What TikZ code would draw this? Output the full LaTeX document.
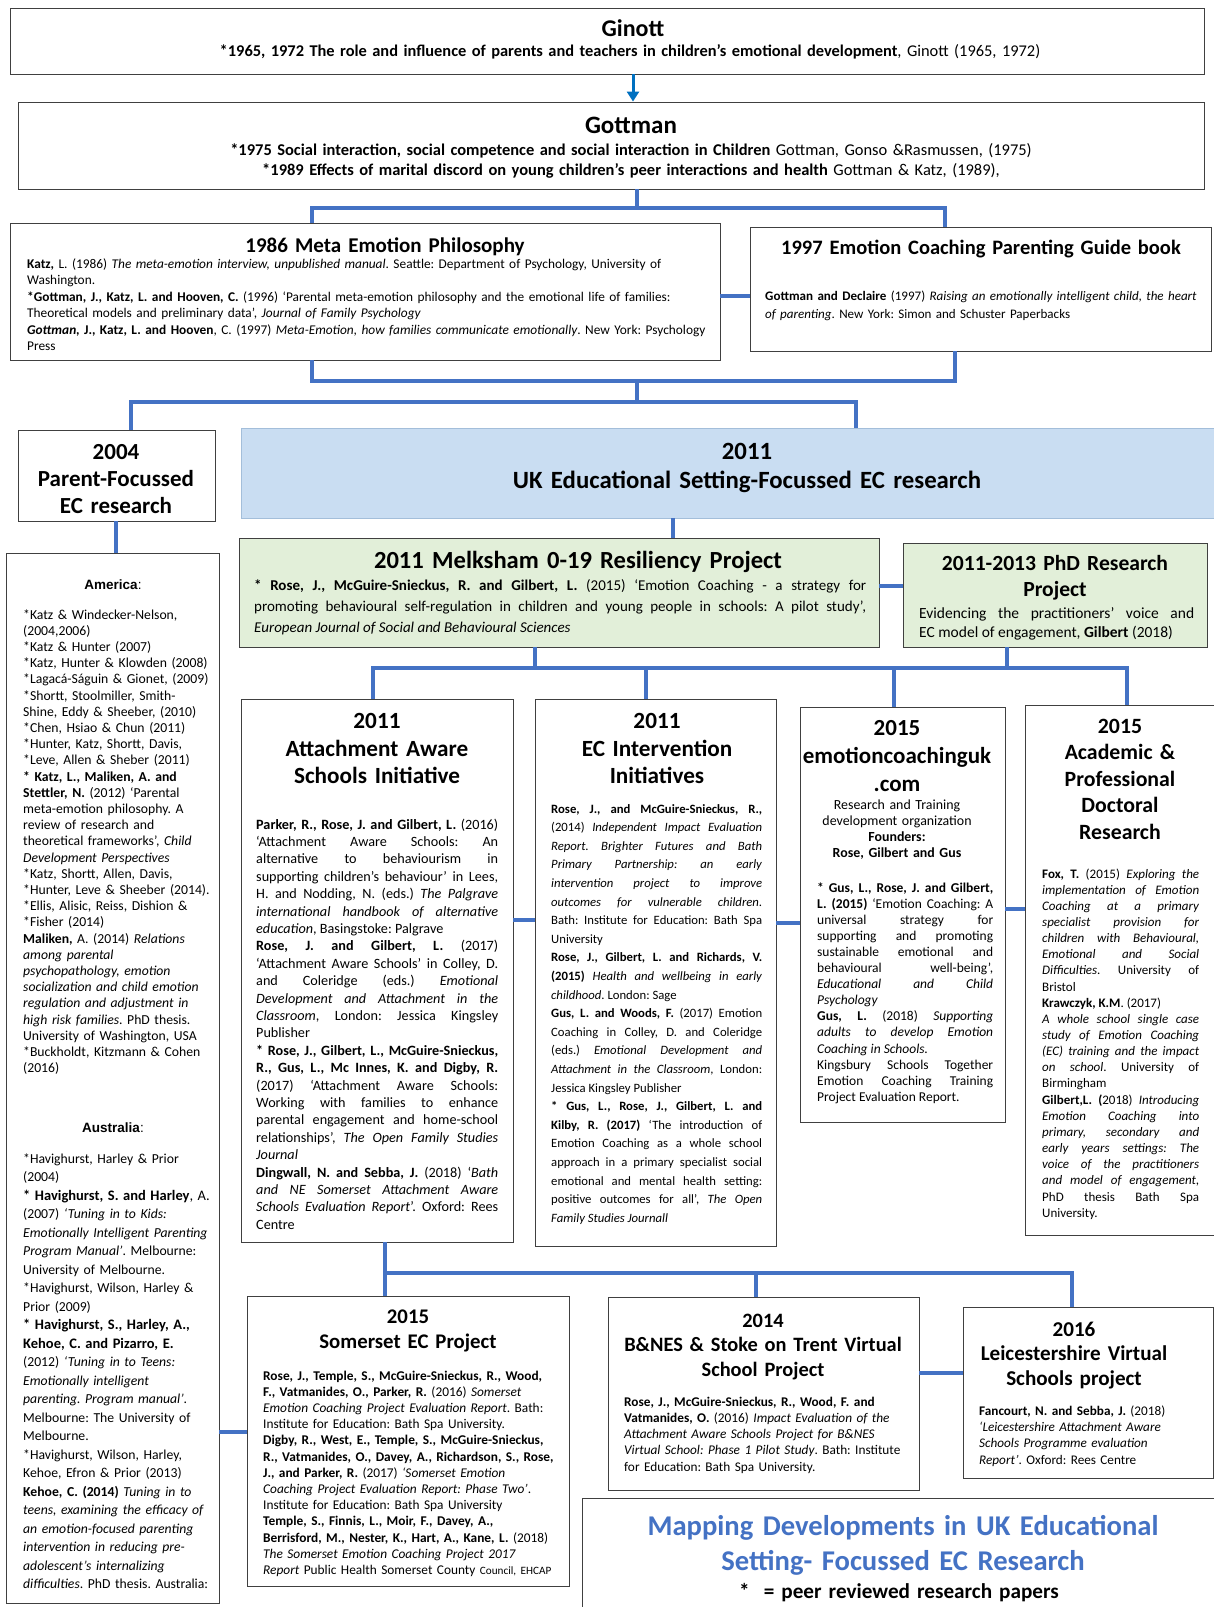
\documentclass[tikz,border=0pt]{standalone}
\usepackage{fontspec}
\setmainfont{Carlito}
\newfontfamily\arialf{Liberation Sans}
\usetikzlibrary{fit,arrows.meta}
\definecolor{cblue}{HTML}{4472C4}
\definecolor{arrblue}{HTML}{0070C0}
\definecolor{ukfill}{HTML}{C9DDF2}
\definecolor{ukdraw}{HTML}{A3BEDA}
\definecolor{gfill}{HTML}{E2EFD9}
\definecolor{ttlblue}{HTML}{4472C4}
\newcommand\fsz[2]{\fontsize{#1}{#2}\selectfont}
\begin{document}
\frenchspacing
\hyphenpenalty=10000
\exhyphenpenalty=10000
\begin{tikzpicture}[x=1pt,y=-1pt,
  box/.style={draw=black!75, line width=0.9pt, inner sep=0pt, fill=white},
  conn/.style={draw=cblue, line width=4.5pt},
  hd/.style={anchor=base, align=center, inner sep=0pt, text width=700pt},
  tx/.style={anchor=base west, align=left, inner sep=0pt, text width=700pt,
    execute at begin node={\hyphenpenalty=10000 \exhyphenpenalty=10000 }},
  jt/.style={anchor=base west, align=justify, inner sep=0pt,
    execute at begin node={\tolerance=10000 \hyphenpenalty=10000 \exhyphenpenalty=10000 }},
]
\useasboundingbox (0,0) rectangle (1214,1607);
\clip (0,0) rectangle (1214,1607);
\fill[white] (0,0) rectangle (1214,1607);

% ---------------- boxes
\node[box, fit={(10,8) (1204,74)}] (ginott) {};
\node[box, fit={(18,102) (1204,189)}] (gottman) {};
\node[box, fit={(10,223) (720,360)}] (meta) {};
\node[box, fit={(750,227) (1211,351)}] (guide) {};
\node[box, fit={(18,430) (215,521)}] (p2004) {};
\node[box, fill=ukfill, draw=ukdraw, fit={(241,428) (1222,518)}] (uk) {};
\node[box, fit={(6,553) (219,1603)}] (leftcol) {};
\node[box, fill=gfill, fit={(239,538) (879,647)}] (melk) {};
\node[box, fill=gfill, fit={(903,543) (1207,647)}] (phd) {};
\node[box, fit={(241,699) (513,1242)}] (attach) {};
\node[box, fit={(535,699) (776,1246)}] (ec) {};
\node[box, fit={(800,707) (1005,1122)}] (emo) {};
\node[box, fit={(1025,705) (1222,1235)}] (acad) {};
\node[box, fit={(247,1296) (569,1586)}] (somer) {};
\node[box, fit={(608,1297) (919,1490)}] (bnes) {};
\node[box, fit={(963,1307) (1213,1478)}] (leic) {};
\node[box, fit={(582,1498) (1222,1615)}] (mapbox) {};

% ---------------- connectors
\draw[-{Triangle[width=12pt,length=10pt]}, draw=arrblue, fill=arrblue, line width=3pt] (ginott.south -| 633,0) -- (gottman.north -| 633,0);
\draw[conn] (gottman.south -| 637,0) -- (637,208);
\draw[conn] (meta.north -| 312,0) -- (312,208) -- (945,208) -- (guide.north -| 945,0);
\draw[conn] (meta.east |- 0,296) -- (guide.west |- 0,296);
\draw[conn] (meta.south -| 312,0) -- (312,381) -- (955,381) -- (guide.south -| 955,0);
\draw[conn] (637,381) -- (637,402);
\draw[conn] (p2004.north -| 131,0) -- (131,402) -- (856,402) -- (uk.north -| 856,0);
\draw[conn] (p2004.south -| 116,0) -- (leftcol.north -| 116,0);
\draw[conn] (uk.south -| 673,0) -- (melk.north -| 673,0);
\draw[conn] (melk.east |- 0,586) -- (phd.west |- 0,586);
\draw[conn] (melk.south -| 535,0) -- (535,668);
\draw[conn] (phd.south -| 1007,0) -- (1007,668);
\draw[conn] (attach.north -| 373,0) -- (373,668) -- (1127,668) -- (acad.north -| 1127,0);
\draw[conn] (646,668) -- (ec.north -| 646,0);
\draw[conn] (894,668) -- (emo.north -| 894,0);
\draw[conn] (attach.east |- 0,920) -- (ec.west |- 0,920);
\draw[conn] (ec.east |- 0,923) -- (emo.west |- 0,923);
\draw[conn] (emo.east |- 0,909) -- (acad.west |- 0,909);
\draw[conn] (attach.south -| 385,0) -- (385,1273) -- (1072,1273) -- (leic.north -| 1072,0);
\draw[conn] (385,1273) -- (somer.north -| 385,0);
\draw[conn] (756,1273) -- (bnes.north -| 756,0);
\draw[conn] (leftcol.east |- 0,1432) -- (somer.west |- 0,1432);
\draw[conn] (bnes.east |- 0,1373) -- (leic.west |- 0,1373);

% ---------------- texts
\node[hd, font=\bfseries\fsz{24}{28}] (ginott-h) at (633,36) {Ginott};
\node[hd, text width=1100pt, font=\fsz{16.4}{19}] (ginott-t) at (630,56.5) {\textbf{*1965, 1972 The role and influence of parents and teachers in children’s emotional development}, Ginott (1965, 1972)};

\node[hd, font=\bfseries\fsz{25}{30}] (gottman-h) at (631,133) {Gottman};
\node[hd, text width=1100pt, font=\fsz{16.45}{19.5}] (gottman-t) at (631,155.5) {\textbf{*1975 Social interaction, social competence and social interaction in Children} Gottman, Gonso \&Rasmussen, (1975)\\
\textbf{*1989 Effects of marital discord on young children’s peer interactions and health} Gottman \& Katz, (1989),};

\node[hd, font=\bfseries\fsz{21}{24}] (meta-h) at (385,252) {1986 Meta Emotion Philosophy};
\node[tx, font=\fsz{13.35}{16.4}] (meta-t) at (27,268.5) {\textbf{Katz,} L. (1986) \textit{The meta-emotion interview, unpublished manual}. Seattle: Department of Psychology, University of\\
Washington.\\
\textbf{*Gottman, J., Katz, L. and Hooven, C.} (1996) ‘Parental meta-emotion philosophy and the emotional life of families:\\
Theoretical models and preliminary data’, \textit{Journal of Family Psychology}\\
\textbf{\textit{Gottman,} J., Katz, L. and Hooven}, C. (1997) \textit{Meta-Emotion, how families communicate emotionally}. New York: Psychology\\
Press};

\node[hd, font=\bfseries\fsz{20.5}{24}] (guide-h) at (981,254) {1997 Emotion Coaching Parenting Guide book};
\node[tx, font=\fsz{13.05}{18.4}] (guide-t) at (765,300) {\textbf{Gottman and Declaire} (1997) \textit{Raising an emotionally intelligent child, the heart}\\
\textit{of parenting}. New York: Simon and Schuster Paperbacks};

\node[hd, text width=190pt, font=\bfseries\fsz{23}{27}] (p2004-h) at (116,459.5) {2004\\Parent-Focussed\\EC research};
\node[hd, font=\bfseries\fsz{24.8}{29.5}] (uk-h) at (747,459) {2011\\UK Educational Setting-Focussed EC research};

\node[hd, font=\bfseries\fsz{24.6}{26}] (melk-h) at (578,568) {2011 Melksham 0-19 Resiliency Project};
\node[jt, text width=612pt, font=\fsz{15}{21}] (melk-t) at (254,590) {\textbf{* Rose, J., McGuire-Snieckus, R. and Gilbert, L.} (2015) ‘Emotion Coaching - a strategy for\linebreak
promoting behavioural self-regulation in children and young people in schools: A pilot study’,\linebreak
\textit{European Journal of Social and Behavioural Sciences}};

\node[hd, text width=290pt, font=\bfseries\fsz{21.6}{26}] (phd-h) at (1055,570) {2011-2013 PhD Research\\Project};
\node[jt, text width=275pt, font=\fsz{15.5}{19.5}] (phd-t) at (919,618) {\parfillskip=0pt Evidencing the practitioners’ voice and\linebreak
EC model of engagement, \textbf{Gilbert} (2018)};

% America / Australia column
\node[hd, text width=200pt, font=\arialf\fsz{13.5}{16}] (amer-h) at (113,589) {\textbf{America}:};
\node[tx, text width=196pt, font=\fsz{13.7}{16.2}] (amer-t) at (23,619) {{*}Katz \& Windecker-Nelson,\\
(2004,2006)\\
{*}Katz \& Hunter (2007)\\
{*}Katz, Hunter \& Klowden (2008)\\
{*}Lagacá-Ságuin \& Gionet, (2009)\\
{*}Shortt, Stoolmiller, Smith-\\
Shine, Eddy \& Sheeber, (2010)\\
{*}Chen, Hsiao \& Chun (2011)\\
{*}Hunter, Katz, Shortt, Davis,\\
{*}Leve, Allen \& Sheber (2011)\\
\textbf{* Katz, L., Maliken, A. and}\\
\textbf{Stettler, N.} (2012) ‘Parental\\
meta-emotion philosophy. A\\
review of research and\\
theoretical frameworks’, \textit{Child}\\
\textit{Development Perspectives}\\
{*}Katz, Shortt, Allen, Davis,\\
{*}Hunter, Leve \& Sheeber (2014).\\
{*}Ellis, Alisic, Reiss, Dishion \&\\
{*}Fisher (2014)\\
\textbf{Maliken,} A. (2014) \textit{Relations}\\
\textit{among parental}\\
\textit{psychopathology, emotion}\\
\textit{socialization and child emotion}\\
\textit{regulation and adjustment in}\\
\textit{high risk families}. PhD thesis.\\
University of Washington, USA\\
{*}Buckholdt, Kitzmann \& Cohen\\
(2016)};

\node[hd, text width=200pt, font=\arialf\fsz{13.5}{16}] (aus-h) at (113,1132) {\textbf{Australia}:};
\node[tx, text width=196pt, font=\fsz{13.7}{18.5}] (aus-t) at (23,1163) {{*}Havighurst, Harley \& Prior\\
(2004)\\
{\fsz{14.5}{18.5}\textbf{* Havighurst, S. and Harley}, A.}\\
(2007) \textit{‘Tuning in to Kids:}\\
\textit{Emotionally Intelligent Parenting}\\
\textit{Program Manual’}. Melbourne:\\
University of Melbourne.\\
{*}Havighurst, Wilson, Harley \&\\
Prior (2009)\\
{\fsz{14.5}{18.5}\textbf{* Havighurst, S., Harley, A.,}}\\
{\fsz{14.5}{18.5}\textbf{Kehoe, C. and Pizarro, E.}}\\
(2012) \textit{‘Tuning in to Teens:}\\
\textit{Emotionally intelligent}\\
\textit{parenting. Program manual’}.\\
Melbourne: The University of\\
Melbourne.\\
{*}Havighurst, Wilson, Harley,\\
Kehoe, Efron \& Prior (2013)\\
\textbf{Kehoe, C. (2014)} \textit{Tuning in to}\\
\textit{teens, examining the efficacy of}\\
\textit{an emotion-focused parenting}\\
\textit{intervention in reducing pre-}\\
\textit{adolescent’s internalizing}\\
\textit{difficulties}. PhD thesis. Australia:};

% Attachment Aware
\node[hd, text width=260pt, font=\bfseries\fsz{23.2}{27.5}] (attach-h) at (377,728.5) {2011\\Attachment Aware\\Schools Initiative};
\node[jt, text width=242pt, font=\fsz{14.2}{17.4}] (attach-t) at (256,829) {\textbf{Parker, R., Rose, J. and Gilbert, L.} (2016)\linebreak
‘Attachment Aware Schools: An\linebreak
alternative to behaviourism in\linebreak
supporting children’s behaviour’ in Lees,\linebreak
H. and Nodding, N. (eds.) \textit{The Palgrave}\linebreak
\textit{international handbook of alternative}\linebreak
\textit{education}, Basingstoke: Palgrave\par
\textbf{Rose, J. and Gilbert, L.} (2017)\linebreak
‘Attachment Aware Schools’ in Colley, D.\linebreak
and Coleridge (eds.) \textit{Emotional}\linebreak
\textit{Development and Attachment in the}\linebreak
\textit{Classroom}, London: Jessica Kingsley\linebreak
Publisher\par
\textbf{* Rose, J., Gilbert, L., McGuire-Snieckus,}\linebreak
\textbf{R., Gus, L., Mc Innes, K. and Digby, R.}\linebreak
(2017) ‘Attachment Aware Schools:\linebreak
Working with families to enhance\linebreak
parental engagement and home-school\linebreak
relationships’, \textit{The Open Family Studies}\linebreak
\textit{Journal}\par
\textbf{Dingwall, N. and Sebba, J.} (2018) ‘\textit{Bath}\linebreak
\textit{and NE Somerset Attachment Aware}\linebreak
\textit{Schools Evaluation Report}’. Oxford: Rees\linebreak
Centre};

% EC Intervention
\node[hd, text width=230pt, font=\bfseries\fsz{23.2}{27.5}] (ec-h) at (657,728.5) {2011\\EC Intervention\\Initiatives};
\node[jt, text width=211pt, font=\fsz{12.7}{18.6}] (ec-t) at (551,813) {\textbf{Rose, J., and McGuire-Snieckus, R.,}\linebreak
(2014) \textit{Independent Impact Evaluation}\linebreak
\textit{Report. Brighter Futures and Bath}\linebreak
\textit{Primary Partnership: an early}\linebreak
\textit{intervention project to improve}\linebreak
\textit{outcomes for vulnerable children}.\linebreak
Bath: Institute for Education: Bath Spa\linebreak
University\par
\textbf{Rose, J., Gilbert, L. and Richards, V.}\linebreak
\textbf{(2015)} \textit{Health and wellbeing in early}\linebreak
\textit{childhood}. London: Sage\par
\textbf{Gus, L. and Woods, F.} (2017) Emotion\linebreak
Coaching in Colley, D. and Coleridge\linebreak
(eds.) \textit{Emotional Development and}\linebreak
\textit{Attachment in the Classroom}, London:\linebreak
Jessica Kingsley Publisher\par
\textbf{* Gus, L., Rose, J., Gilbert, L. and}\linebreak
\textbf{Kilby, R. (2017)} ‘The introduction of\linebreak
Emotion Coaching as a whole school\linebreak
approach in a primary specialist social\linebreak
emotional and mental health setting:\linebreak
positive outcomes for all’, \textit{The Open}\linebreak
\textit{Family Studies Journall}};

% emotioncoachinguk
\node[hd, text width=204pt, font=\bfseries\fsz{23}{28}] (emo-h) at (897,735.5) {2015\\emotioncoachinguk\\.com};
\node[hd, text width=200pt, font=\fsz{13.9}{16}] (emo-s) at (897,809.5) {Research and Training\\development organization\\\textbf{Founders:}\\\textbf{Rose, Gilbert and Gus}};
\node[jt, text width=176pt, font=\fsz{13.5}{16.1}] (emo-t) at (817,892) {\textbf{* Gus, L., Rose, J. and Gilbert,}\linebreak
\textbf{L. (2015)} ‘Emotion Coaching: A\linebreak
universal strategy for\linebreak
supporting and promoting\linebreak
sustainable emotional and\linebreak
behavioural well-being’,\linebreak
\textit{Educational and Child}\linebreak
\textit{Psychology}\par
\textbf{Gus, L.} (2018) \textit{Supporting}\linebreak
\textit{adults to develop Emotion}\linebreak
\textit{Coaching in Schools.}\par
Kingsbury Schools Together\linebreak
Emotion Coaching Training\linebreak
Project Evaluation Report.};

% Academic
\node[hd, text width=190pt, font=\bfseries\fsz{21.8}{26.5}] (acad-h) at (1120,733) {2015\\Academic \&\\Professional\\Doctoral\\Research};
\node[jt, text width=157pt, font=\fsz{13}{16.15}] (acad-t) at (1042,878) {\textbf{Fox, T.} (2015) \textit{Exploring the}\linebreak
\textit{implementation of Emotion}\linebreak
\textit{Coaching at a primary}\linebreak
\textit{specialist provision for}\linebreak
\textit{children with Behavioural,}\linebreak
\textit{Emotional and Social}\linebreak
\textit{Difficulties.} University of\linebreak
Bristol\par
\textbf{Krawczyk, K.M}. (2017)\par
\textit{A whole school single case}\linebreak
\textit{study of Emotion Coaching}\linebreak
\textit{(EC) training and the impact}\linebreak
\textit{on school}. University of\linebreak
Birmingham\par
\textbf{Gilbert,L. (}2018) \textit{Introducing}\linebreak
\textit{Emotion Coaching into}\linebreak
\textit{primary, secondary and}\linebreak
\textit{early years settings: The}\linebreak
\textit{voice of the practitioners}\linebreak
\textit{and model of engagement},\linebreak
PhD thesis Bath Spa\linebreak
University.};

% Somerset
\node[hd, text width=310pt, font=\bfseries\fsz{20.8}{25}] (somer-h) at (408,1323) {2015\\Somerset EC Project};
\node[tx, text width=305pt, font=\fsz{13.35}{16.2}] (somer-t) at (263,1380) {\textbf{Rose, J., Temple, S., McGuire-Snieckus, R., Wood,}\\
\textbf{F., Vatmanides, O., Parker, R.} (2016) \textit{Somerset}\\
\textit{Emotion Coaching Project Evaluation Report}. Bath:\\
Institute for Education: Bath Spa University.\\
\textbf{Digby, R., West, E., Temple, S., McGuire-Snieckus,}\\
\textbf{R., Vatmanides, O., Davey, A., Richardson, S., Rose,}\\
\textbf{J., and Parker, R.} (2017) \textit{‘Somerset Emotion}\\
\textit{Coaching Project Evaluation Report: Phase Two’}.\\
Institute for Education: Bath Spa University\\
\textbf{Temple, S., Finnis, L., Moir, F., Davey, A.,}\\
\textbf{Berrisford, M., Nester, K., Hart, A., Kane, L.} (2018)\\
\textit{The Somerset Emotion Coaching Project 2017}\\
\textit{Report} Public Health Somerset County {\fsz{11.2}{16.2}Council, EHCAP}};

% B&NES
\node[hd, text width=305pt, font=\bfseries\fsz{20.4}{24.5}] (bnes-h) at (763,1327) {2014\\B\&NES \& Stoke on Trent Virtual\\School Project};
\node[tx, text width=300pt, font=\fsz{13.3}{16.3}] (bnes-t) at (624,1406) {\textbf{Rose, J., McGuire-Snieckus, R., Wood, F. and}\\
\textbf{Vatmanides, O.} (2016) \textit{Impact Evaluation of the}\\
\textit{Attachment Aware Schools Project for B\&NES}\\
\textit{Virtual School: Phase 1 Pilot Study}. Bath: Institute\\
for Education: Bath Spa University.};

% Leicestershire
\node[hd, text width=245pt, font=\bfseries\fsz{21.1}{24.5}] (leic-h) at (1074,1336) {2016\\Leicestershire Virtual\\Schools project};
\node[tx, text width=230pt, font=\fsz{13.2}{16.4}] (leic-t) at (979,1415) {\textbf{Fancourt, N. and Sebba, J.} (2018)\\
\textit{‘Leicestershire Attachment Aware}\\
\textit{Schools Programme evaluation}\\
\textit{Report’}. Oxford: Rees Centre};

% Mapping title
\node[hd, text width=620pt, font=\bfseries\fsz{28.6}{35}, text=ttlblue] (map-h) at (903,1535.5) {Mapping Developments in UK Educational\\Setting- Focussed EC Research};
\node[hd, text width=620pt, font=\bfseries\fsz{21.2}{24}] (map-t) at (899,1598) {*\ \ = peer reviewed research papers};
\end{tikzpicture}
\end{document}
